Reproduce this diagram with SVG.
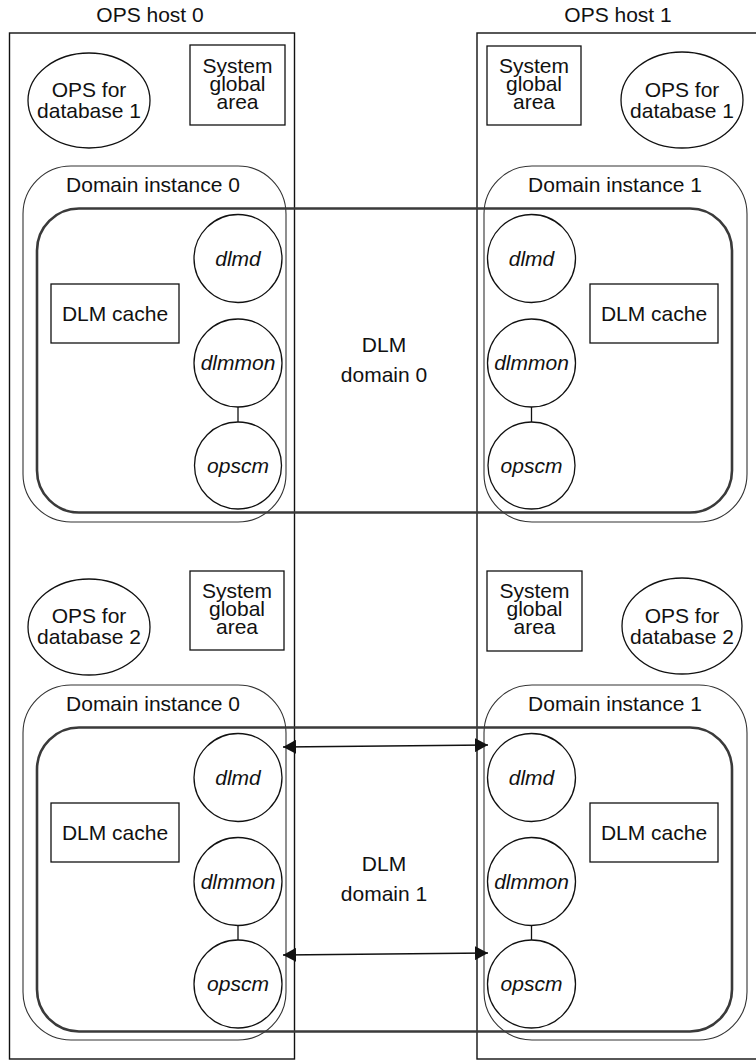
<svg xmlns="http://www.w3.org/2000/svg" width="756" height="1061" viewBox="0 0 756 1061">
<style>
text{font-family:"Liberation Sans",Arial,sans-serif;font-size:21px;fill:#111;text-anchor:middle}
.it{font-style:italic}
.host{fill:none;stroke:#111;stroke-width:1.4}
.box{fill:none;stroke:#111;stroke-width:1.3}
.inst{fill:none;stroke:#333;stroke-width:1.1}
.dom{fill:none;stroke:#3a3a3a;stroke-width:2.6}
.proc{fill:none;stroke:#111;stroke-width:1.3}
.link{stroke:#111;stroke-width:1.3;fill:none}
.arr{stroke:#111;stroke-width:1.4;fill:none;marker-start:url(#ah);marker-end:url(#ah)}
</style>
<defs>
<marker id="ah" viewBox="0 0 14 14" refX="13" refY="7" markerWidth="14" markerHeight="14" markerUnits="userSpaceOnUse" orient="auto-start-reverse">
<path d="M0,0 L13,7 L0,14 z" fill="#111"/>
</marker>
</defs>

<g id="host0"><rect class="host" x="9.5" y="33" width="285" height="1026"/><text x="150" y="22">OPS host 0</text></g>
<g id="host1"><rect class="host" x="477" y="33" width="290" height="1026"/><text x="618" y="22">OPS host 1</text></g>

<!-- top half -->
<g id="ops-db1-h0"><ellipse class="box" cx="89" cy="100.5" rx="61" ry="47.5"/><text x="89" y="97">OPS for</text><text x="89" y="118">database 1</text></g>
<g id="sga-1-h0"><rect class="box" x="190" y="45" width="95" height="80"/><text x="237.5" y="73">System</text><text x="237.5" y="91">global</text><text x="237.5" y="109">area</text></g>
<g id="sga-1-h1"><rect class="box" x="487" y="46" width="94" height="79"/><text x="534" y="73">System</text><text x="534" y="91">global</text><text x="534" y="109">area</text></g>
<g id="ops-db1-h1"><ellipse class="box" cx="682" cy="100" rx="61" ry="48"/><text x="682" y="97">OPS for</text><text x="682" y="118">database 1</text></g>

<g id="inst0-d0"><rect class="inst" x="23" y="166" width="263" height="356" rx="48"/><text x="153" y="192">Domain instance 0</text></g>
<g id="inst1-d0"><rect class="inst" x="484" y="166" width="263" height="356" rx="48"/><text x="615" y="192">Domain instance 1</text></g>
<g id="dlm-domain0"><rect class="dom" x="37" y="208.5" width="695" height="304" rx="42"/><text x="384" y="352">DLM</text><text x="384" y="382">domain 0</text></g>

<g id="cache-0-d0"><rect class="box" x="51" y="284" width="128" height="59"/><text x="115" y="321">DLM cache</text></g>
<g id="cache-1-d0"><rect class="box" x="590" y="284" width="128" height="59"/><text x="654" y="321">DLM cache</text></g>

<g id="dlmd-0-d0"><circle class="proc" cx="238" cy="258.5" r="44"/><text class="it" x="238" y="266">dlmd</text></g>
<g id="dlmmon-0-d0"><circle class="proc" cx="238" cy="363" r="44"/><text class="it" x="238" y="370">dlmmon</text></g>
<g id="opscm-0-d0"><circle class="proc" cx="238" cy="465.5" r="43.5"/><text class="it" x="238" y="473">opscm</text></g>
<g id="dlmd-1-d0"><circle class="proc" cx="531.5" cy="258.5" r="44"/><text class="it" x="531.5" y="266">dlmd</text></g>
<g id="dlmmon-1-d0"><circle class="proc" cx="531.5" cy="363" r="44"/><text class="it" x="531.5" y="370">dlmmon</text></g>
<g id="opscm-1-d0"><circle class="proc" cx="531.5" cy="465.5" r="43.5"/><text class="it" x="531.5" y="473">opscm</text></g>

<!-- bottom half -->
<g id="ops-db2-h0"><ellipse class="box" cx="89" cy="627" rx="61" ry="48"/><text x="89" y="623">OPS for</text><text x="89" y="644">database 2</text></g>
<g id="sga-2-h0"><rect class="box" x="190" y="571" width="94" height="79"/><text x="237" y="598">System</text><text x="237" y="616">global</text><text x="237" y="634">area</text></g>
<g id="sga-2-h1"><rect class="box" x="487" y="571" width="95" height="80"/><text x="534.5" y="598">System</text><text x="534.5" y="616">global</text><text x="534.5" y="634">area</text></g>
<g id="ops-db2-h1"><ellipse class="box" cx="682" cy="626" rx="60" ry="48"/><text x="682" y="623">OPS for</text><text x="682" y="644">database 2</text></g>

<g id="inst0-d1"><rect class="inst" x="23" y="685" width="263" height="355" rx="48"/><text x="153" y="711">Domain instance 0</text></g>
<g id="inst1-d1"><rect class="inst" x="484" y="685" width="263" height="355" rx="48"/><text x="615" y="711">Domain instance 1</text></g>
<g id="dlm-domain1"><rect class="dom" x="37" y="727.5" width="695" height="304" rx="42"/><text x="384" y="871">DLM</text><text x="384" y="901">domain 1</text></g>

<g id="cache-0-d1"><rect class="box" x="51" y="803" width="128" height="59"/><text x="115" y="840">DLM cache</text></g>
<g id="cache-1-d1"><rect class="box" x="590" y="803" width="128" height="59"/><text x="654" y="840">DLM cache</text></g>

<g id="dlmd-0-d1"><circle class="proc" cx="238" cy="777.5" r="44"/><text class="it" x="238" y="785">dlmd</text></g>
<g id="dlmmon-0-d1"><circle class="proc" cx="238" cy="881.5" r="44"/><text class="it" x="238" y="889">dlmmon</text></g>
<g id="opscm-0-d1"><circle class="proc" cx="238" cy="984" r="44"/><text class="it" x="238" y="991">opscm</text></g>
<g id="dlmd-1-d1"><circle class="proc" cx="531.5" cy="777.5" r="44"/><text class="it" x="531.5" y="785">dlmd</text></g>
<g id="dlmmon-1-d1"><circle class="proc" cx="531.5" cy="881.5" r="44"/><text class="it" x="531.5" y="889">dlmmon</text></g>
<g id="opscm-1-d1"><circle class="proc" cx="531.5" cy="984" r="44"/><text class="it" x="531.5" y="991">opscm</text></g>

<g id="connectors">
<line class="link" x1="238" y1="407" x2="238" y2="422"/>
<line class="link" x1="531.5" y1="407" x2="531.5" y2="422"/>
<line class="link" x1="238" y1="925.5" x2="238" y2="940"/>
<line class="link" x1="531.5" y1="925.5" x2="531.5" y2="940"/>
<line class="arr" x1="283" y1="747" x2="488" y2="745"/>
<line class="arr" x1="283" y1="955" x2="488" y2="953"/>
</g>
</svg>
